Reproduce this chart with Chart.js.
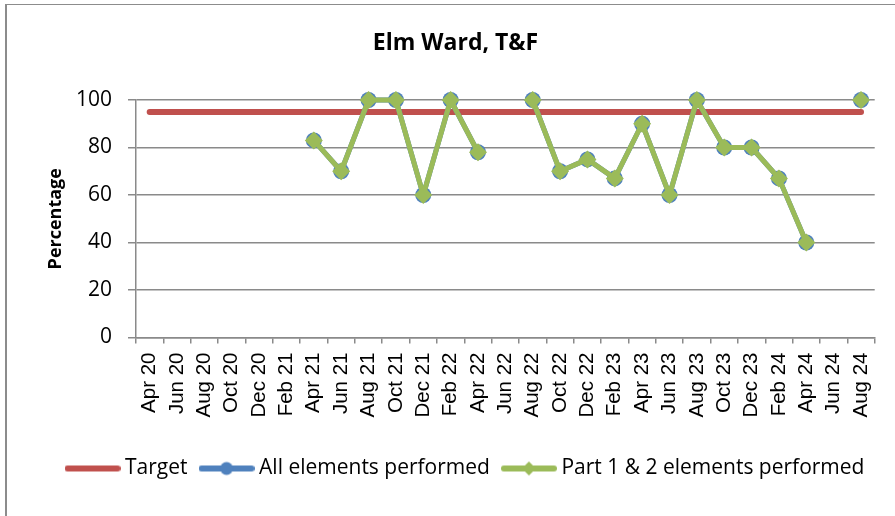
<!DOCTYPE html>
<html>
<head>
<meta charset="utf-8">
<script src="https://cdn.jsdelivr.net/npm/chart.js@4.4.1/dist/chart.umd.min.js"></script>
<style>
  html, body { margin: 0; padding: 0; background: #fff; overflow: hidden; }
  #frame { position: absolute; left: 5px; top: 4px; width: 1000px; height: 1000px;
           border-left: 2px solid #8c8c8c; border-top: 1px solid #8c8c8c; }
  #c { position: absolute; left: 0; top: 0; }
</style>
</head>
<body>
<div id="frame"></div>
<canvas id="c" width="895" height="516"></canvas>
<script>
// Audit months (bi-monthly)
const months = [
  'Apr 20', 'Jun 20', 'Aug 20', 'Oct 20', 'Dec 20',
  'Feb 21', 'Apr 21', 'Jun 21', 'Aug 21', 'Oct 21', 'Dec 21',
  'Feb 22', 'Apr 22', 'Jun 22', 'Aug 22', 'Oct 22', 'Dec 22',
  'Feb 23', 'Apr 23', 'Jun 23', 'Aug 23', 'Oct 23', 'Dec 23',
  'Feb 24', 'Apr 24', 'Jun 24', 'Aug 24'
];

// Target compliance (%)
const target = [
  95, 95, 95, 95, 95, 95, 95, 95, 95, 95, 95, 95, 95, 95,
  95, 95, 95, 95, 95, 95, 95, 95, 95, 95, 95, 95, 95
];

// All elements performed (%)
const allElements = [
  null, null, null, null, null, null,
  83, 70, 100, 100, 60, 100, 78, null,
  100, 70, 75, 67, 90, 60, 100, 80, 80, 67, 40, null, 100
];

// Part 1 & 2 elements performed (%)
const part12 = [
  null, null, null, null, null, null,
  83, 70, 100, 100, 60, 100, 78, null,
  100, 70, 75, 67, 90, 60, 100, 80, 80, 67, 40, null, 100
];

const yTicks = [0, 20, 40, 60, 80, 100];

const RED = '#C0504D', BLUE = '#4F81BD', GREEN = '#9BBB59', GRID = '#8a8a8a';

// Small line-with-marker swatch used in the legend
function legendSample(color, marker) {
  const cv = document.createElement('canvas');
  cv.width = 56; cv.height = 16;
  const g = cv.getContext('2d');
  g.strokeStyle = color; g.lineWidth = 6; g.lineCap = 'round';
  g.beginPath(); g.moveTo(3, 8); g.lineTo(53, 8); g.stroke();
  g.fillStyle = color;
  if (marker === 'circle') {
    g.beginPath(); g.arc(28, 8, 6.5, 0, Math.PI * 2); g.fill();
  } else if (marker === 'diamond') {
    g.beginPath(); g.moveTo(28, 1); g.lineTo(35, 8); g.lineTo(28, 15); g.lineTo(21, 8);
    g.closePath(); g.fill();
  }
  return cv;
}

// Nudge the legend row sideways within its box
const legendShift = {
  id: 'legendShift',
  afterLayout(chart) {
    chart.legend.left += 12;
    chart.legend.right += 12;
  }
};

function draw() {
  const swatches = [
    legendSample(RED, null),
    legendSample(BLUE, 'circle'),
    legendSample(GREEN, 'diamond')
  ];

  new Chart(document.getElementById('c'), {
    type: 'line',
    data: {
      labels: months,
      datasets: [
        {
          label: 'Target', data: target, order: 2, clip: false,
          borderColor: RED, backgroundColor: RED, borderWidth: 6,
          borderCapStyle: 'round', pointRadius: 0, tension: 0
        },
        {
          label: 'All elements performed', data: allElements, order: 1, clip: false,
          borderColor: BLUE, backgroundColor: BLUE, borderWidth: 5,
          borderJoinStyle: 'round', pointStyle: 'circle', pointRadius: 8,
          pointBackgroundColor: BLUE, pointBorderWidth: 0, tension: 0
        },
        {
          label: 'Part 1 & 2 elements performed', data: part12, order: 0, clip: false,
          borderColor: GREEN, backgroundColor: GREEN, borderWidth: 5,
          borderJoinStyle: 'round', pointStyle: 'rectRot', pointRadius: 9,
          pointBackgroundColor: GREEN, pointBorderWidth: 0, tension: 0
        }
      ]
    },
    options: {
      responsive: false,
      animation: false,
      events: [],
      layout: { padding: { left: 36, right: 20, top: 0, bottom: 27 } },
      plugins: {
        tooltip: { enabled: false },
        title: {
          display: true,
          text: 'Elm Ward, T&F',
          color: '#000',
          font: { family: 'Open Sans', weight: 'bold', size: 23 },
          padding: { top: 30, bottom: 42.4 }
        },
        legend: {
          position: 'bottom',
          labels: {
            usePointStyle: true,
            pointStyleWidth: 44,
            padding: 17,
            color: '#000',
            font: { family: 'Open Sans', size: 21 },
            generateLabels(chart) {
              return chart.data.datasets.map((ds, i) => ({
                text: ds.label,
                pointStyle: swatches[i],
                fillStyle: ds.borderColor,
                strokeStyle: ds.borderColor,
                lineWidth: 0,
                hidden: false,
                datasetIndex: i,
                fontColor: '#000'
              }));
            }
          }
        }
      },
      scales: {
        x: {
          type: 'category',
          offset: true,
          afterFit(s) { s.height = 103.5; },
          grid: {
            display: true, drawOnChartArea: false, drawTicks: true,
            tickLength: 6, offset: true, color: GRID, lineWidth: 1.5
          },
          border: { display: true, color: GRID, width: 1.5 },
          ticks: {
            autoSkip: false, minRotation: 90, maxRotation: 90, padding: 9,
            color: '#000', font: { family: 'Liberation Sans', size: 20.5 }
          }
        },
        y: {
          min: 0, max: 100,
          afterFit(s) { s.width = 100; },
          afterBuildTicks(s) { s.ticks = yTicks.map(v => ({ value: v })); },
          grid: { color: GRID, lineWidth: 1.5, tickLength: 8 },
          border: { display: true, color: GRID, width: 1.5 },
          ticks: {
            padding: 16, color: '#000',
            font: { family: 'Open Sans', size: 21 }
          },
          title: {
            display: true, text: 'Percentage', color: '#000',
            font: { family: 'Open Sans', weight: 'bold', size: 18 },
            padding: { top: 9, bottom: 0 }
          }
        }
      }
    },
    plugins: [legendShift]
  });
}

const fontLoads = [
  '21px "Open Sans"', 'bold 23px "Open Sans"', '20px "Liberation Sans"'
].map(f => document.fonts.load(f).catch(() => null));
Promise.all(fontLoads).then(draw, draw);
</script>
</body>
</html>
